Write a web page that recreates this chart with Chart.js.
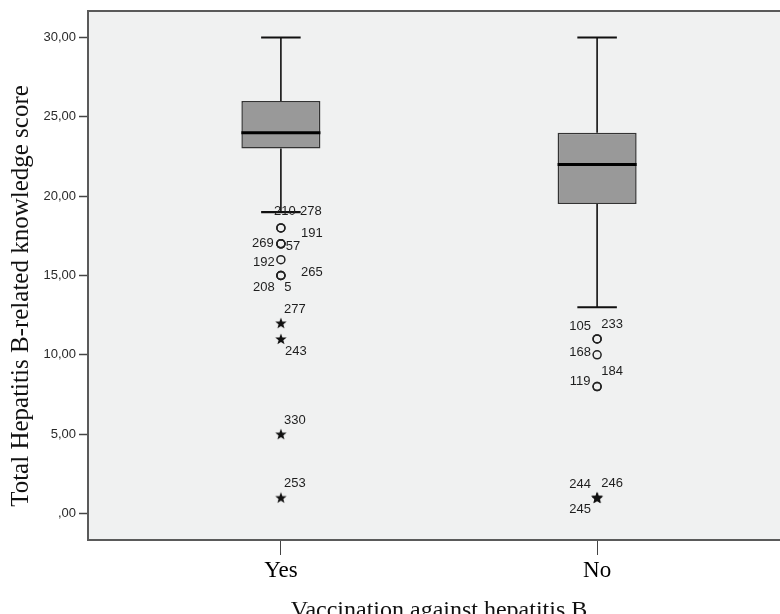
<!DOCTYPE html>
<html>
<head>
<meta charset="utf-8">
<title>Hepatitis B knowledge score by vaccination</title>
<script src="https://cdn.jsdelivr.net/npm/chart.js@4.4.1/dist/chart.umd.min.js"></script>
<style>
    html, body { margin: 0; padding: 0; background: #ffffff; overflow: hidden; }
    #wrap { width: 780px; height: 614px; overflow: hidden; }
    canvas { display: block; }
</style>
</head>
<body>
<div id="wrap"><canvas id="boxChart" width="800" height="630"></canvas></div>
<script>
// box plot statistics per group
var categories = ['Yes', 'No'];
var whiskerMin = [19, 13];
var quartile1 = [23, 19.5];
var medians = [24, 22];
var quartile3 = [26, 24];
var whiskerMax = [30, 30];

// outliers (circles): group index, value, case number
var outlierGroup = [0, 0, 0, 0, 0, 0, 0, 0, 0, 1, 1, 1, 1, 1];
var outlierValue = [18, 18, 17, 17, 17, 16, 15, 15, 15, 11, 11, 10, 8, 8];
var outlierCase = ['210', '278', '269', '57', '191', '192', '265', '208', '5', '105', '233', '168', '119', '184'];

// extremes (stars)
var extremeGroup = [0, 0, 0, 0, 1, 1, 1];
var extremeValue = [12, 11, 5, 1, 1, 1, 1];
var extremeCase = ['277', '243', '330', '253', '244', '246', '245'];

// axis ticks
var yTickValues = [0, 5, 10, 15, 20, 25, 30];
var yTickLabels = [',00', '5,00', '10,00', '15,00', '20,00', '25,00', '30,00'];

// label placement next to each point (pixels), same order as the case lists
var outlierLabelOffset = [[4, -16], [30, -16], [-18, 0], [12, 3], [31, -10], [-17, 3], [31, -3], [-17, 12], [7, 12],
    [-17, -13], [15, -15], [-17, -2], [-17, -5], [15, -15]];
var extremeLabelOffset = [[14, -14], [15, 12], [14, -14], [14, -14], [-17, -13], [15, -14], [-17, 12]];

var BOX_HALF = 0.125;
var CAP_HALF = 0.0625;

function groupX(i) { return i + 1; }

function makeStar() {
    var c = document.createElement('canvas');
    c.width = 14; c.height = 14;
    var g = c.getContext('2d');
    g.fillStyle = '#111';
    g.beginPath();
    for (var i = 0; i < 10; i++) {
        var r = (i % 2) ? 2.5 : 6;
        var a = -Math.PI / 2 + i * Math.PI / 5;
        var px = 7 + r * Math.cos(a), py = 7.4 + r * Math.sin(a);
        if (i === 0) g.moveTo(px, py); else g.lineTo(px, py);
    }
    g.closePath();
    g.fill();
    return c;
}

// build the line pieces for whiskers, caps and medians
var whiskerData = [], capData = [], medianData = [];
categories.forEach(function (name, i) {
    var x = groupX(i);
    whiskerData.push({x: x, y: quartile3[i]}, {x: x, y: whiskerMax[i]}, {x: x, y: null});
    whiskerData.push({x: x, y: quartile1[i]}, {x: x, y: whiskerMin[i]}, {x: x, y: null});
    capData.push({x: x - CAP_HALF, y: whiskerMax[i]}, {x: x + CAP_HALF, y: whiskerMax[i]}, {x: x, y: null});
    capData.push({x: x - CAP_HALF, y: whiskerMin[i]}, {x: x + CAP_HALF, y: whiskerMin[i]}, {x: x, y: null});
    medianData.push({x: x - BOX_HALF, y: medians[i]}, {x: x + BOX_HALF, y: medians[i]}, {x: x, y: null});
});

var boxData = categories.map(function (name, i) {
    return {x: groupX(i), y: [quartile1[i], quartile3[i]]};
});
var outlierData = outlierValue.map(function (v, i) {
    return {x: groupX(outlierGroup[i]), y: v};
});
var extremeData = extremeValue.map(function (v, i) {
    return {x: groupX(extremeGroup[i]), y: v};
});

var plotFrame = {
    id: 'plotFrame',
    beforeDatasetsDraw: function (chart) {
        var a = chart.chartArea, ctx = chart.ctx;
        ctx.save();
        ctx.fillStyle = '#f0f1f1';
        ctx.fillRect(a.left, a.top, a.right - a.left, a.bottom - a.top);
        ctx.restore();
    },
    afterDraw: function (chart) {
        var a = chart.chartArea, ctx = chart.ctx;
        ctx.save();
        ctx.strokeStyle = '#5a5a5a';
        ctx.lineWidth = 2;
        ctx.strokeRect(a.left, a.top, a.right - a.left, a.bottom - a.top);
        // y axis title
        ctx.translate(21, 296);
        ctx.rotate(-Math.PI / 2);
        ctx.fillStyle = '#111';
        ctx.font = '25px "Liberation Serif", "Times New Roman", serif';
        ctx.textAlign = 'center';
        ctx.textBaseline = 'middle';
        ctx.fillText('Total Hepatitis B-related knowledge score', 0, 0);
        ctx.restore();
    }
};

var caseLabels = {
    id: 'caseLabels',
    afterDatasetsDraw: function (chart) {
        var xs = chart.scales.x, ys = chart.scales.y, ctx = chart.ctx;
        ctx.save();
        ctx.fillStyle = '#1e1e1e';
        ctx.font = '13px "Liberation Sans", Arial, sans-serif';
        ctx.textAlign = 'center';
        ctx.textBaseline = 'middle';
        outlierCase.forEach(function (id, i) {
            var px = xs.getPixelForValue(groupX(outlierGroup[i]));
            var py = ys.getPixelForValue(outlierValue[i]);
            ctx.fillText(id, px + outlierLabelOffset[i][0], py + outlierLabelOffset[i][1]);
        });
        extremeCase.forEach(function (id, i) {
            var px = xs.getPixelForValue(groupX(extremeGroup[i]));
            var py = ys.getPixelForValue(extremeValue[i]);
            ctx.fillText(id, px + extremeLabelOffset[i][0], py + extremeLabelOffset[i][1]);
        });
        ctx.restore();
    }
};

var ctx = document.getElementById('boxChart').getContext('2d');
var boxChart = new Chart(ctx, {
    type: 'bar',
    data: {
        datasets: [{
            type: 'bar',
            data: boxData,
            backgroundColor: '#999999',
            borderColor: '#333333',
            borderWidth: 1.5,
            borderSkipped: false,
            barPercentage: 0.25,
            categoryPercentage: 1,
            order: 5
        }, {
            type: 'line',
            data: whiskerData,
            borderColor: '#111',
            borderWidth: 1.6,
            pointRadius: 0,
            spanGaps: false,
            order: 4
        }, {
            type: 'line',
            data: capData,
            borderColor: '#111',
            borderWidth: 2.2,
            pointRadius: 0,
            spanGaps: false,
            order: 3
        }, {
            type: 'line',
            data: medianData,
            borderColor: '#000',
            borderWidth: 3,
            pointRadius: 0,
            spanGaps: false,
            order: 2
        }, {
            type: 'line',
            data: outlierData,
            showLine: false,
            pointStyle: 'circle',
            pointRadius: 4,
            pointBorderWidth: 1.5,
            pointBorderColor: '#222',
            pointBackgroundColor: 'rgba(0,0,0,0)',
            order: 1
        }, {
            type: 'line',
            data: extremeData,
            showLine: false,
            pointStyle: makeStar(),
            pointRadius: 6,
            order: 1
        }]
    },
    options: {
        responsive: false,
        animation: false,
        layout: { padding: { top: 11, right: 10, left: 0, bottom: 0 } },
        plugins: {
            legend: { display: false },
            tooltip: { enabled: false }
        },
        scales: {
            x: {
                type: 'linear',
                min: 0.39,
                max: 2.61,
                offset: false,
                afterBuildTicks: function (scale) {
                    scale.ticks = categories.map(function (c, i) { return {value: groupX(i)}; });
                },
                afterFit: function (scale) { scale.height = 90; },
                grid: {
                    offset: false,
                    drawOnChartArea: false,
                    drawTicks: true,
                    tickLength: 15,
                    tickColor: '#444',
                    tickWidth: 1
                },
                border: { display: true, color: '#5a5a5a', width: 2 },
                ticks: {
                    padding: 4,
                    color: '#000',
                    maxRotation: 0,
                    font: { family: '"Liberation Serif", "Times New Roman", serif', size: 23, lineHeight: 1 },
                    callback: function (value) { return categories[value - 1]; }
                },
                title: {
                    display: true,
                    text: 'Vaccination against hepatitis B',
                    color: '#111',
                    padding: { top: 0, bottom: 5 },
                    font: { family: '"Liberation Serif", "Times New Roman", serif', size: 24 }
                }
            },
            y: {
                min: -1.67,
                max: 31.67,
                afterBuildTicks: function (scale) {
                    scale.ticks = yTickValues.map(function (v) { return {value: v}; });
                },
                afterFit: function (scale) { scale.width = 88; },
                grid: {
                    drawOnChartArea: false,
                    drawTicks: true,
                    tickLength: 9,
                    tickColor: '#444',
                    tickWidth: 1.5
                },
                border: { display: true, color: '#5a5a5a', width: 2 },
                ticks: {
                    padding: 3,
                    color: '#2a2a2a',
                    font: { family: '"Liberation Sans", Arial, sans-serif', size: 13 },
                    callback: function (value, index) { return yTickLabels[index]; }
                }
            }
        }
    },
    plugins: [plotFrame, caseLabels]
});
</script>
</body>
</html>
